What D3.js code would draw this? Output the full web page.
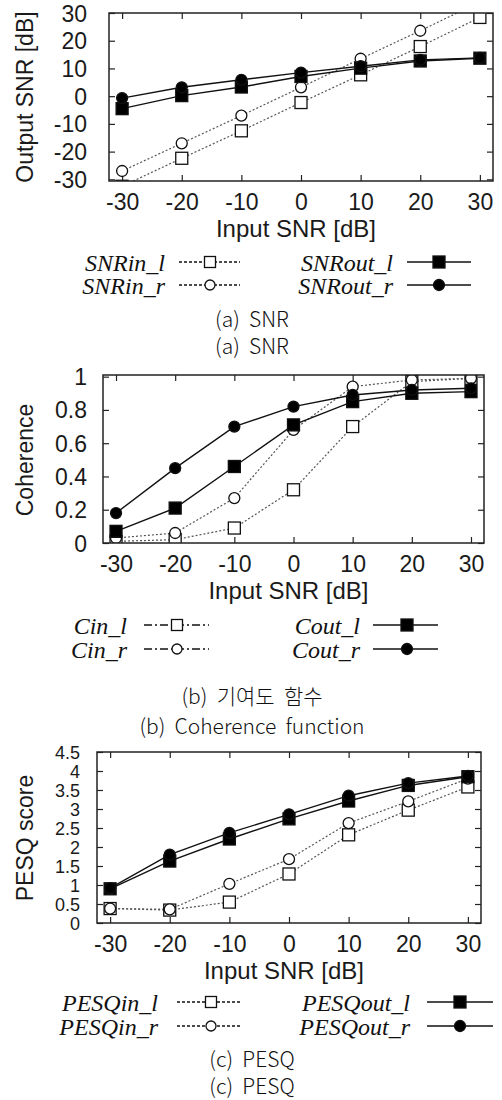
<!DOCTYPE html>
<html>
<head>
<meta charset="utf-8">
<script src="https://cdn.jsdelivr.net/npm/d3@7"></script>
<style>
  body { margin: 0; background: #fff; }
  svg { display: block; }
</style>
</head>
<body>
<svg id="chart" width="502" height="1100"></svg>
<script>
// x values shared by all three panels
var inputSnr = [-30, -20, -10, 0, 10, 20, 30];
var xTicks = [-30, -20, -10, 0, 10, 20, 30];

// (a) SNR
var snrInL = [-32.5, -22.4, -12.5, -2.3, 7.7, 17.9, 28.4];
var snrInR = [-27, -17, -7, 3.2, 13.5, 23.6, 34];
var snrOutL = [-4.5, 0.2, 3.3, 7.1, 10.1, 12.7, 13.7];
var snrOutR = [-0.7, 3.2, 5.9, 8.5, 10.8, 13.1, 13.8];
var snrTicks = [-30, -20, -10, 0, 10, 20, 30];

// (b) coherence
var cohInL = [0.01, 0.02, 0.09, 0.32, 0.70, 0.97, 0.99];
var cohInR = [0.03, 0.06, 0.27, 0.68, 0.94, 0.98, 0.99];
var cohOutL = [0.07, 0.21, 0.46, 0.71, 0.85, 0.90, 0.91];
var cohOutR = [0.18, 0.45, 0.70, 0.82, 0.89, 0.92, 0.93];
var cohTicks = [0, 0.2, 0.4, 0.6, 0.8, 1];

// (c) PESQ
var pesqInL = [0.38, 0.34, 0.55, 1.29, 2.32, 2.97, 3.58];
var pesqInR = [0.38, 0.36, 1.03, 1.68, 2.63, 3.20, 3.80];
var pesqOutL = [0.90, 1.63, 2.21, 2.74, 3.21, 3.62, 3.85];
var pesqOutR = [0.92, 1.80, 2.37, 2.86, 3.35, 3.68, 3.87];
var pesqTicks = [0, 0.5, 1, 1.5, 2, 2.5, 3, 3.5, 4, 4.5];

var svg = d3.select("#chart");
var sansFont = "'Liberation Sans', Arial, sans-serif";
var serifFont = "'Liberation Serif', 'Times New Roman', serif";
var capFont = "'Noto Sans CJK KR', 'Noto Sans', sans-serif";
var plain = function(d) { return String(d); };  // keep ascii hyphen for negatives

var panels = [
  {
    id: "a", left: 109, right: 493, top: 13, bottom: 181,
    yDomain: [-30.6, 30], yTicks: snrTicks, yFont: 23,
    yLabelX: 87, yTitle: "Output SNR [dB]", yTitleY: 97,
    series: [
      { name: "SNRin_l", vals: snrInL, filled: false, shape: "square" },
      { name: "SNRin_r", vals: snrInR, filled: false, shape: "circle" },
      { name: "SNRout_l", vals: snrOutL, filled: true, shape: "square" },
      { name: "SNRout_r", vals: snrOutR, filled: true, shape: "circle" }
    ],
    legDash: "3,2",
    leg: { rows: [262, 285], cols: [{ textR: 165, l1: 179, l2: 240, m: 210 }, { textR: 393, l1: 407, l2: 471, m: 439 }] },
    captions: [["(a)  SNR", 327], ["(a)  SNR", 354]]
  },
  {
    id: "b", left: 103, right: 484, top: 375, bottom: 543,
    yDomain: [0, 1.01], yTicks: cohTicks, yFont: 23,
    yLabelX: 87, yTitle: "Coherence", yTitleY: 460,
    series: [
      { name: "Cin_l", vals: cohInL, filled: false, shape: "square" },
      { name: "Cin_r", vals: cohInR, filled: false, shape: "circle" },
      { name: "Cout_l", vals: cohOutL, filled: true, shape: "square" },
      { name: "Cout_r", vals: cohOutR, filled: true, shape: "circle" }
    ],
    legDash: "8,3,2,3",
    leg: { rows: [625, 649], cols: [{ textR: 127, l1: 144, l2: 209, m: 177 }, { textR: 360, l1: 373, l2: 438, m: 407 }] },
    captions: [["(b)  기여도  함수", 704], ["(b)  Coherence  function", 734]]
  },
  {
    id: "c", left: 97, right: 481, top: 752, bottom: 923,
    yDomain: [0, 4.5], yTicks: pesqTicks, yFont: 18,
    yLabelX: 80, yTitle: "PESQ score", yTitleY: 838,
    series: [
      { name: "PESQin_l", vals: pesqInL, filled: false, shape: "square" },
      { name: "PESQin_r", vals: pesqInR, filled: false, shape: "circle" },
      { name: "PESQout_l", vals: pesqOutL, filled: true, shape: "square" },
      { name: "PESQout_r", vals: pesqOutR, filled: true, shape: "circle" }
    ],
    legDash: "3,2",
    leg: { rows: [1002, 1026], cols: [{ textR: 158, l1: 177, l2: 240, m: 211 }, { textR: 410, l1: 427, l2: 493, m: 460 }] },
    captions: [["(c)  PESQ", 1067], ["(c)  PESQ", 1094]]
  }
];

panels.forEach(drawPanel);

function drawMarker(g, shape, filled, cx, cy, size) {
  if (shape == "square") {
    g.append("rect")
      .attr("x", cx - size / 2).attr("y", cy - size / 2)
      .attr("width", size).attr("height", size)
      .attr("fill", filled ? "#000" : "#fff")
      .attr("stroke", "#111").attr("stroke-width", 1.3);
  } else {
    g.append("circle")
      .attr("cx", cx).attr("cy", cy).attr("r", size / 2 - 0.5)
      .attr("fill", filled ? "#000" : "#fff")
      .attr("stroke", "#111").attr("stroke-width", 1.3);
  }
}

function drawPanel(p) {
  var g = svg.append("g").attr("class", "panel-" + p.id);
  var x = d3.scaleLinear().domain([-32.2, 32.2]).range([p.left, p.right]);
  var y = d3.scaleLinear().domain(p.yDomain).range([p.bottom, p.top]);

  // inward ticks on all four sides
  var bottomAx = g.append("g").attr("transform", "translate(0," + p.bottom + ")")
    .call(d3.axisBottom(x).tickValues(xTicks).tickSizeInner(-6).tickSizeOuter(0).tickFormat(plain));
  bottomAx.selectAll("text").attr("y", 29).attr("dy", null).attr("font-size", 23);
  g.append("g").attr("transform", "translate(0," + p.top + ")")
    .call(d3.axisTop(x).tickValues(xTicks).tickSizeInner(-6).tickSizeOuter(0).tickFormat(""));
  var leftAx = g.append("g").attr("transform", "translate(" + p.left + ",0)")
    .call(d3.axisLeft(y).tickValues(p.yTicks).tickSizeInner(-6).tickSizeOuter(0).tickFormat(plain));
  leftAx.selectAll("text").attr("x", p.yLabelX - p.left).attr("dy", "0.35em").attr("font-size", p.yFont);
  g.append("g").attr("transform", "translate(" + p.right + ",0)")
    .call(d3.axisRight(y).tickValues(p.yTicks).tickSizeInner(-6).tickSizeOuter(0).tickFormat(""));

  g.selectAll(".domain").remove();
  g.selectAll(".tick line").attr("stroke", "#222").attr("stroke-width", 1.2);
  g.selectAll(".tick text")
    .attr("font-family", sansFont).attr("fill", "#1a1a1a");

  // clip data to the frame
  g.append("clipPath").attr("id", "clip-" + p.id)
    .append("rect")
    .attr("x", p.left).attr("y", p.top)
    .attr("width", p.right - p.left).attr("height", p.bottom - p.top);
  var plot = g.append("g").attr("clip-path", "url(#clip-" + p.id + ")");

  var line = d3.line()
    .x(function(d, i) { return x(inputSnr[i]); })
    .y(function(d) { return y(d); });

  p.series.forEach(function(s) {
    plot.append("path")
      .datum(s.vals)
      .attr("d", line)
      .attr("fill", "none")
      .attr("stroke", s.filled ? "#111" : "#555")
      .attr("stroke-width", s.filled ? 1.4 : 1.2)
      .attr("stroke-dasharray", s.filled ? null : "2,2");
  });
  p.series.forEach(function(s) {
    s.vals.forEach(function(v, i) {
      drawMarker(plot, s.shape, s.filled, x(inputSnr[i]), y(v), 12);
    });
  });

  // frame
  g.append("rect")
    .attr("x", p.left).attr("y", p.top)
    .attr("width", p.right - p.left).attr("height", p.bottom - p.top)
    .attr("fill", "none").attr("stroke", "#222").attr("stroke-width", 1.5);

  // axis titles
  g.append("text")
    .attr("x", (p.left + p.right) / 2 - 5).attr("y", p.bottom + 56)
    .attr("text-anchor", "middle")
    .attr("font-family", sansFont).attr("font-size", 24).attr("fill", "#1a1a1a")
    .text("Input SNR [dB]");
  g.append("text")
    .attr("transform", "translate(33," + p.yTitleY + ") rotate(-90)")
    .attr("text-anchor", "middle")
    .attr("font-family", sansFont).attr("font-size", 23).attr("fill", "#1a1a1a")
    .text(p.yTitle);

  // legend: in-series in the left column, out-series in the right column
  p.series.forEach(function(s, k) {
    var col = p.leg.cols[s.filled ? 1 : 0];
    var ry = p.leg.rows[k % 2];
    g.append("text")
      .attr("x", col.textR).attr("y", ry + 9)
      .attr("text-anchor", "end")
      .attr("font-family", serifFont).attr("font-style", "italic")
      .attr("font-size", 24).attr("fill", "#111")
      .text(s.name);
    g.append("line")
      .attr("x1", col.l1).attr("x2", col.l2).attr("y1", ry).attr("y2", ry)
      .attr("stroke", "#111").attr("stroke-width", 1.3)
      .attr("stroke-dasharray", s.filled ? null : p.legDash);
    drawMarker(g, s.shape, s.filled, col.m, ry, s.filled ? 12 : 11);
  });

  // captions
  p.captions.forEach(function(c) {
    g.append("text")
      .attr("x", 252).attr("y", c[1])
      .attr("text-anchor", "middle")
      .attr("font-family", capFont).attr("font-weight", 300)
      .attr("font-size", 21).attr("fill", "#111")
      .style("white-space", "pre")
      .text(c[0]);
  });
}
</script>
</body>
</html>
